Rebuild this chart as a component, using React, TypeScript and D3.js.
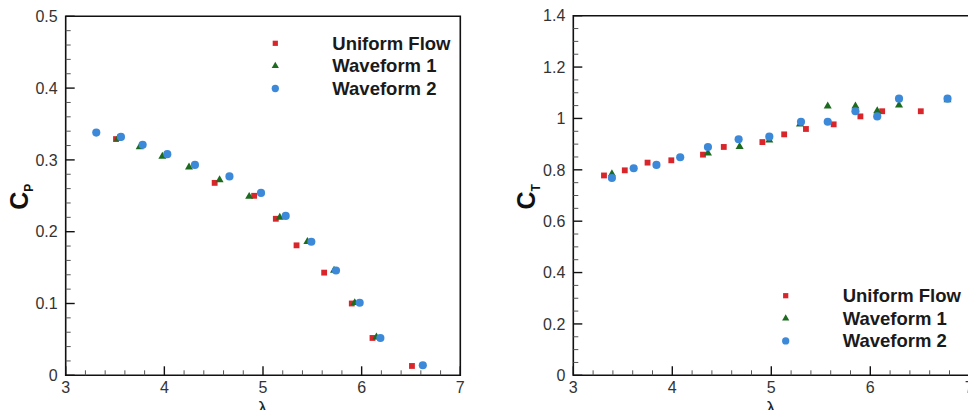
import React from "react";
import * as d3 from "d3";

// ---------- data ----------
const seriesNames = ["Uniform Flow", "Waveform 1", "Waveform 2"];

const cpUniformX = [3.51, 4.51, 4.91, 5.13, 5.34, 5.62, 5.9, 6.11, 6.51];
const cpUniformY = [0.329, 0.268, 0.25, 0.218, 0.181, 0.143, 0.1, 0.052, 0.013];
const cpWave1X = [3.53, 3.75, 3.98, 4.25, 4.56, 4.86, 5.17, 5.45, 5.72, 5.93, 6.15];
const cpWave1Y = [0.33, 0.318, 0.305, 0.29, 0.272, 0.249, 0.22, 0.186, 0.146, 0.101, 0.053];
const cpWave2X = [3.31, 3.56, 3.78, 4.03, 4.31, 4.66, 4.98, 5.23, 5.49, 5.74, 5.98, 6.19, 6.62];
const cpWave2Y = [0.338, 0.332, 0.321, 0.308, 0.293, 0.277, 0.254, 0.222, 0.186, 0.146, 0.101, 0.052, 0.014];

const ctUniformX = [3.31, 3.52, 3.75, 3.99, 4.31, 4.52, 4.91, 5.13, 5.35, 5.63, 5.9, 6.12, 6.51];
const ctUniformY = [0.778, 0.798, 0.828, 0.837, 0.859, 0.889, 0.908, 0.938, 0.959, 0.977, 1.008, 1.028, 1.028];
const ctWave1X = [3.39, 4.36, 4.68, 4.98, 5.29, 5.57, 5.85, 6.07, 6.29, 6.78];
const ctWave1Y = [0.784, 0.865, 0.89, 0.915, 0.978, 1.048, 1.048, 1.029, 1.052, 1.072];
const ctWave2X = [3.39, 3.61, 3.84, 4.08, 4.36, 4.67, 4.98, 5.3, 5.57, 5.85, 6.07, 6.29, 6.78];
const ctWave2Y = [0.768, 0.806, 0.819, 0.849, 0.889, 0.919, 0.929, 0.987, 0.987, 1.028, 1.008, 1.077, 1.077];

const xTicks = [3, 4, 5, 6, 7];
const cpTicks = [0, 0.1, 0.2, 0.3, 0.4, 0.5];
const ctTicks = [0, 0.2, 0.4, 0.6, 0.8, 1, 1.2, 1.4];

// ---------- styles ----------
const COLORS = ["#d8262b", "#1c6b1e", "#3b89d8"];
const SHAPES = [d3.symbolSquare, d3.symbolTriangle, d3.symbolCircle];
const SIZES = [34, 28, 52];
const FONT = "'Liberation Sans', Arial, Helvetica, sans-serif";

const fmt = (v: number) => String(+v.toFixed(2));

type Panel = {
  left: number;
  top: number;
  right: number;
  bottom: number;
  yMax: number;
  yTicks: number[];
  yMinor: number;
  series: [number[], number[]][];
  yLabel: string;
  ySub: string;
  legendX: number;
  legendY: number;
  drawRight: boolean;
};

function PanelView({ p }: { p: Panel }) {
  const x = d3.scaleLinear().domain([3, 7]).range([p.left, p.right]);
  const y = d3.scaleLinear().domain([0, p.yMax]).range([p.bottom, p.top]);
  const xMinor = d3.range(3, 7.0001, 0.2).filter((v) => Math.abs(v - Math.round(v)) > 1e-6);
  const yMinor = d3
    .range(0, p.yMax + 1e-6, p.yMinor)
    .filter((v) => !p.yTicks.some((t) => Math.abs(t - v) < 1e-6));
  const sym = (i: number, s = SIZES[i]) => d3.symbol().type(SHAPES[i]).size(s)()!;

  return (
    <g>
      {/* frame */}
      <path
        d={
          p.drawRight
            ? `M${p.left},${p.top}H${p.right}V${p.bottom}H${p.left}Z`
            : `M${p.right + 5},${p.top}H${p.left}V${p.bottom}H${p.right + 5}`
        }
        fill="none"
        stroke="#111"
        strokeWidth={1.6}
      />
      {/* x ticks */}
      {xTicks.map((t) => (
        <g key={"xt" + t}>
          <line x1={x(t)} x2={x(t)} y1={p.bottom} y2={p.bottom - 9} stroke="#111" strokeWidth={1.4} />
          <text x={x(t)} y={p.bottom + 18} textAnchor="middle" fontSize={16} fill="#333" fontFamily={FONT}>
            {fmt(t)}
          </text>
        </g>
      ))}
      {xMinor.map((t, i) => (
        <line key={"xm" + i} x1={x(t)} x2={x(t)} y1={p.bottom} y2={p.bottom - 5} stroke="#555" strokeWidth={1} />
      ))}
      {/* y ticks */}
      {p.yTicks.map((t) => (
        <g key={"yt" + t}>
          <line x1={p.left} x2={p.left + 9} y1={y(t)} y2={y(t)} stroke="#111" strokeWidth={1.4} />
          <text x={p.left - 8} y={y(t)} dy="0.36em" textAnchor="end" fontSize={16} fill="#333" fontFamily={FONT}>
            {fmt(t)}
          </text>
        </g>
      ))}
      {yMinor.map((t, i) => (
        <line key={"ym" + i} x1={p.left} x2={p.left + 5} y1={y(t)} y2={y(t)} stroke="#555" strokeWidth={1} />
      ))}
      {/* axis titles */}
      <text
        transform={`translate(${p.left - 38},${(p.top + p.bottom) / 2 + 14}) rotate(-90)`}
        fontFamily={FONT}
        fontWeight="bold"
        fill="#111"
      >
        <tspan fontSize={25}>{p.yLabel}</tspan>
        <tspan fontSize={12} dy={5}>
          {p.ySub}
        </tspan>
      </text>
      <text x={(p.left + p.right) / 2 - 0.5} y={414} textAnchor="middle" fontSize={19} fill="#222" fontFamily={FONT}>
        λ
      </text>
      {/* data */}
      {p.series.map(([xs, ys], si) => (
        <g key={"s" + si} fill={COLORS[si]}>
          {xs.map((xv, i) => (
            <path key={i} d={sym(si)} transform={`translate(${x(xv)},${y(ys[i])})`} />
          ))}
        </g>
      ))}
      {/* legend */}
      {seriesNames.map((name, i) => (
        <g key={"lg" + i} transform={`translate(${p.legendX},${p.legendY + i * 22.6})`}>
          <path d={sym(i, SIZES[i] * 0.8)} fill={COLORS[i]} />
          <text x={57} dy="0.35em" fontSize={18.5} fontWeight="bold" fill="#1a1a1a" fontFamily={FONT}>
            {name}
          </text>
        </g>
      ))}
    </g>
  );
}

export default function App() {
  const left: Panel = {
    left: 65.7,
    top: 16.3,
    right: 460.3,
    bottom: 375.3,
    yMax: 0.5,
    yTicks: cpTicks,
    yMinor: 0.02,
    series: [
      [cpUniformX, cpUniformY],
      [cpWave1X, cpWave1Y],
      [cpWave2X, cpWave2Y],
    ],
    yLabel: "C",
    ySub: "P",
    legendX: 275.3,
    legendY: 43.3,
    drawRight: true,
  };
  const right: Panel = {
    left: 573.3,
    top: 15.7,
    right: 969.3,
    bottom: 375.3,
    yMax: 1.4,
    yTicks: ctTicks,
    yMinor: 0.05,
    series: [
      [ctUniformX, ctUniformY],
      [ctWave1X, ctWave1Y],
      [ctWave2X, ctWave2Y],
    ],
    yLabel: "C",
    ySub: "T",
    legendX: 785.7,
    legendY: 295.7,
    drawRight: false,
  };
  return (
    <svg
      width={968}
      height={410}
      style={{ position: "absolute", left: 0, top: 0, background: "#fff" }}
    >
      <rect width={968} height={410} fill="#fff" />
      <PanelView p={left} />
      <PanelView p={right} />
    </svg>
  );
}
